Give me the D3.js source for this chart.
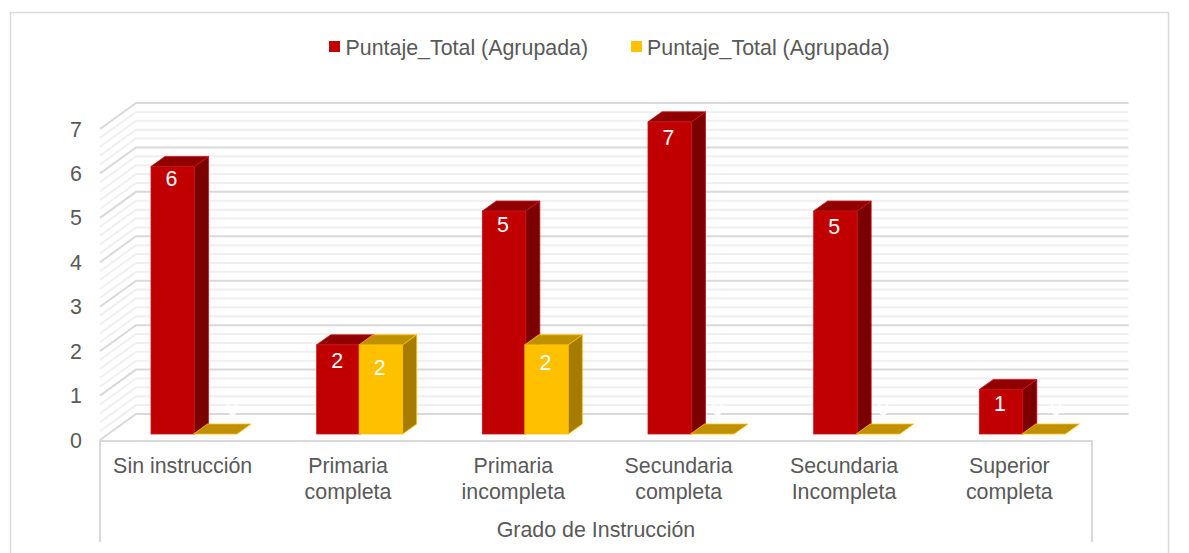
<!DOCTYPE html>
<html><head><meta charset="utf-8">
<script src="https://cdn.jsdelivr.net/npm/d3@7"></script>
<style>html,body{margin:0;padding:0;background:#fff}svg{display:block}text{font-family:"Liberation Sans",Arial,sans-serif}</style>
</head><body><svg id="c" width="1189" height="553"></svg>
<script>
const categories=[["Sin instrucción"],["Primaria","completa"],["Primaria","incompleta"],["Secundaria","completa"],["Secundaria","Incompleta"],["Superior","completa"]];
const seriesNames=["Puntaje_Total (Agrupada)","Puntaje_Total (Agrupada)"];
const redValues=[6,2,5,7,5,1];
const yellowValues=[0,2,2,0,0,0];
const yTicks=[0,1,2,3,4,5,6,7];
const axisTitle="Grado de Instrucción";
const redLabelNudge=[-4,-1,-3,-1,-1,-2];
const yellowLabelNudge=[0,6,1,0,0,0];
const zeroLabelShift=[38,0,0,26,26,33];

const W=1189,H=553,svg=d3.select("#c");
const TXT="#595959",GM="#d9d9d9",Gm="#f0f0f0",FS=21.4;
const x=d3.scaleBand().domain(d3.range(6)).range([100,1094]).paddingInner(0).paddingOuter(0);
const xLabel=d3.scaleBand().domain(d3.range(6)).range([100,1092]);
const yFront=d3.scaleLinear().domain([0,7]).range([440,129]);
const wallD={x:36,y:-26}, barD={x:14,y:-10};
const barBase=434, barW=43.5, barOff=51, unit=44.6;

svg.append("rect").attr("x",10.5).attr("y",12.5).attr("width",1158).attr("height",560).attr("fill","#fff").attr("stroke","#d9d9d9").attr("stroke-width",1.5);

const minor=d3.range(0,7).flatMap(v=>d3.range(1,5).map(k=>v+k/5));
const g=svg.append("g").attr("fill","none");
function wall(v,col,sw){
  const y0=yFront(v);
  g.append("path").attr("d",d3.line()([[100,y0],[100+wallD.x,y0+wallD.y],[1128.5,y0+wallD.y]])).attr("stroke",col).attr("stroke-width",sw);
}
minor.forEach(v=>wall(v,Gm,2));
yTicks.forEach(v=>wall(v,GM,2));

svg.append("path").attr("d",d3.line()([[100,542],[100,441],[1092,441],[1092,542]])).attr("fill","none").attr("stroke",GM).attr("stroke-width",2);

svg.append("g").selectAll("text").data(yTicks).join("text")
  .attr("x",76).attr("y",d=>yFront(d)+7.5).attr("text-anchor","middle").attr("font-size",FS).attr("fill",TXT).text(d=>d);

function bar(gp,x0,h,c){
  const top=barBase-h;
  const poly=p=>gp.append("polygon").attr("points",p.map(d=>d.join(",")).join(" "));
  if(h>0){
    gp.append("rect").attr("x",x0).attr("y",top).attr("width",barW).attr("height",h).attr("fill",c.front).attr("stroke",c.edge).attr("stroke-width",.8);
    poly([[x0+barW,top],[x0+barW+barD.x,top+barD.y],[x0+barW+barD.x,barBase+barD.y],[x0+barW,barBase]]).attr("fill",c.side).attr("stroke",c.edge).attr("stroke-width",.8);
  }
  poly([[x0,top],[x0+barD.x,top+barD.y],[x0+barW+barD.x,top+barD.y],[x0+barW,top]]).attr("fill",c.top).attr("stroke",c.edge).attr("stroke-width",.8);
}
const RED={front:"#c00000",side:"#7b0000",top:"#900000",edge:"#c8141c"};
const YEL={front:"#ffc000",side:"#a67c00",top:"#bf9000",edge:"#ffc000"};
const h=d3.scaleLinear().domain([0,1]).range([0,unit]);
categories.forEach((c,i)=>{
  const gp=svg.append("g");
  const x0=x(i)+barOff;
  bar(gp,x0,h(redValues[i]),RED);
  bar(gp,x0+barW-1,h(yellowValues[i]),YEL);
});

const lab=svg.append("g").attr("text-anchor","middle").attr("font-size",FS).attr("fill","#fff");
categories.forEach((c,i)=>{
  const x0=x(i)+barOff;
  lab.append("text").attr("x",x0+20.5).attr("y",barBase-h(redValues[i])+24+redLabelNudge[i]).text(redValues[i]);
  const v=yellowValues[i];
  const yy=v>0?barBase-h(v)+24+yellowLabelNudge[i]:barBase-19;
  lab.append("text").attr("x",x0+barW+(v>0?19.5:zeroLabelShift[i])).attr("y",yy).text(v);
});

const cat=svg.append("g").attr("text-anchor","middle").attr("font-size",FS).attr("fill",TXT);
categories.forEach((c,i)=>{
  c.forEach((t,k)=>cat.append("text").attr("x",xLabel(i)+xLabel.bandwidth()/2).attr("y",473+k*25.5).text(t));
});
svg.append("text").attr("x",596).attr("y",536.5).attr("text-anchor","middle").attr("font-size",FS).attr("fill",TXT).text(axisTitle);

const lg=svg.append("g");
[[329,"#c00000",345.5],[631,"#ffc000",647]].forEach((d,i)=>{
  lg.append("rect").attr("x",d[0]).attr("y",41).attr("width",11).attr("height",11).attr("fill",d[1]);
  lg.append("text").attr("x",d[2]).attr("y",54.5).attr("font-size",FS).attr("fill",TXT).text(seriesNames[i]);
});
</script></body></html>
